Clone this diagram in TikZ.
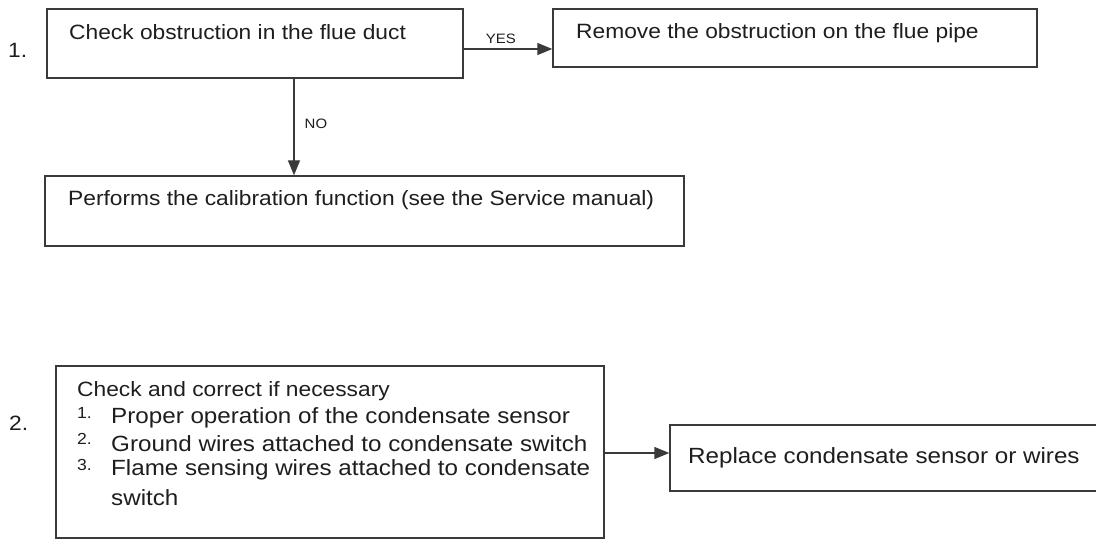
\documentclass[tikz,border=0pt]{standalone}
\usepackage{fontspec}
\setmainfont{Liberation Sans}[FakeStretch=1.1]
\usetikzlibrary{arrows.meta}
\definecolor{ln}{HTML}{3A3A3A}
\definecolor{tx}{HTML}{1E1E1E}
\begin{document}
\begin{tikzpicture}[x=1pt,y=1pt,
  box/.style={draw=ln, line width=1.4pt, inner sep=0pt, rectangle},
  txtA/.style={anchor=west, inner sep=0pt, text=tx, font=\fontsize{20.7}{24}\selectfont},
  txtB/.style={anchor=west, inner sep=0pt, text=tx, font=\fontsize{22}{26}\selectfont},
  numsm/.style={anchor=west, inner sep=0pt, text=tx, font=\fontsize{16}{19}\selectfont},
  lab/.style={anchor=west, inner sep=0pt, text=tx, font=\fontsize{13.6}{16}\selectfont},
  arr/.style={draw=ln, line width=1.4pt, -{Triangle[length=15pt,width=12pt]}}]
\clip (0,0) rectangle (1096,-540);
\fill[white] (0,0) rectangle (1096,-540);

% boxes
\node[box, minimum width=416pt, minimum height=69pt] (b1) at (255,-43.5) {};
\node[box, minimum width=484pt, minimum height=58pt] (b2) at (795,-38) {};
\node[box, minimum width=639pt, minimum height=70pt] (b3) at (364.5,-211) {};
\node[box, minimum width=548pt, minimum height=172pt] (b4) at (330,-452) {};
\node[box, minimum width=440pt, minimum height=66pt] (b5) at (890,-458) {};

% texts
\node[txtA] (n1) at (8,-50) {1.};
\node[txtA] (t1) at (69,-32) {Check obstruction in the flue duct};
\node[txtA] (t2) at (576,-33) {Remove the obstruction on the flue pipe};
\node[txtA] (t3) at (68,-200) {Performs the calibration function (see the Service manual)};
\node[txtA] (n2) at (9,-423) {2.};
\node[txtA] (t4) at (77,-391) {Check and correct if necessary};
\node[numsm] (i1n) at (77,-413) {1.};
\node[txtB] (i1) at (111,-418) {Proper operation of the condensate sensor};
\node[numsm] (i2n) at (77,-439) {2.};
\node[txtB] (i2) at (111,-444) {Ground wires attached to condensate switch};
\node[numsm] (i3n) at (77,-465) {3.};
\node[txtB] (i3) at (111,-470) {Flame sensing wires attached to condensate};
\node[txtB] (i4) at (111,-498) {switch};
\node[txtB] (t5) at (688,-458) {Replace condensate sensor or wires};

% connectors
\draw[arr] ([yshift=-5.5pt]b1.east) -- ([yshift=-5.5pt]b1.east -| b2.west)
  node[lab, pos=0.42, above=5pt, anchor=south] (yes) {YES};
\draw[arr] ([xshift=39pt]b1.south) -- ([xshift=39pt]b1.south |- b3.north)
  node[lab, pos=0.47, right=10pt, anchor=west] (no) {NO};
\draw[arr] ([yshift=-1pt]b4.east) -- ([yshift=-1pt]b4.east -| b5.west);
\end{tikzpicture}
\end{document}
